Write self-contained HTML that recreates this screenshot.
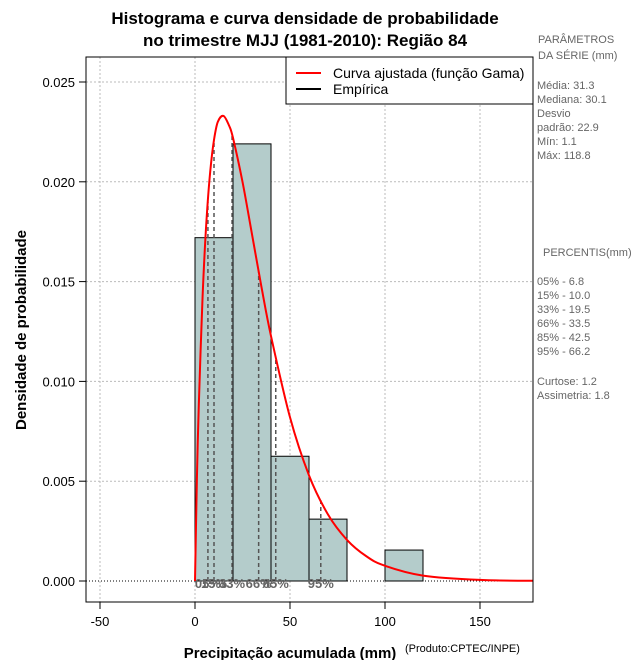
<!DOCTYPE html>
<html><head><meta charset="utf-8"><style>
body{margin:0;background:#fff;width:640px;height:660px;overflow:hidden}
svg text{font-family:"Liberation Sans",sans-serif}
</style></head><body>
<svg id="chart" width="640" height="660">
<defs><clipPath id="plotclip"><rect x="86" y="57" width="447" height="545"/></clipPath></defs>
<text x="305" y="24" text-anchor="middle" font-size="17" font-weight="bold">Histograma e curva densidade de probabilidade</text>
<text x="305" y="46" text-anchor="middle" font-size="17" font-weight="bold">no trimestre MJJ (1981-2010): Região 84</text>
<g id="grid"></g>
<g id="bars"></g>
<g id="pct"></g>
<path id="curve" fill="none" stroke="#f00" stroke-width="2" clip-path="url(#plotclip)"/>
<g id="axes"></g>
<rect x="86" y="57" width="447" height="545" fill="none" stroke="#000"/>
<g>
<rect x="286" y="57" width="247" height="47" fill="#fff" stroke="#000"/>
<line x1="296" y1="73" x2="321" y2="73" stroke="#f00" stroke-width="2"/>
<text x="333" y="78" font-size="14">Curva ajustada (função Gama)</text>
<line x1="296" y1="89" x2="321" y2="89" stroke="#000" stroke-width="2"/>
<text x="333" y="94" font-size="14">Empírica</text>
</g>
<text x="290" y="658" text-anchor="middle" font-size="15" font-weight="bold">Precipitação acumulada (mm)</text>
<text x="405" y="652" font-size="11">(Produto:CPTEC/INPE)</text>
<text transform="translate(26,330) rotate(-90)" text-anchor="middle" font-size="15" font-weight="bold">Densidade de probabilidade</text>
<g fill="#666" font-size="11">
<text x="538" y="43">PARÂMETROS</text><text x="538" y="59"> DA SÉRIE (mm)</text>
<text x="537" y="89">Média:  31.3</text><text x="537" y="103">Mediana:  30.1</text>
<text x="537" y="117">Desvio</text><text x="537" y="131">padrão:  22.9</text>
<text x="537" y="145">Mín:  1.1</text><text x="537" y="159">Máx:  118.8</text>
<text x="543" y="256">PERCENTIS(mm)</text>
<text x="537" y="285">05% -  6.8</text><text x="537" y="299">15% -  10.0</text>
<text x="537" y="313">33% -  19.5</text><text x="537" y="327">66% -  33.5</text>
<text x="537" y="341">85% -  42.5</text><text x="537" y="355">95% -  66.2</text>
<text x="537" y="385">Curtose:  1.2</text><text x="537" y="399">Assimetria:  1.8</text>
</g>
</svg>
<script>
const binStarts=[0,20,40,60,80,100];
const binDensity=[0.0172,0.0219,0.00625,0.0031,0,0.00155];
const binWidth=20;
const curveX=[0,1,2,4,6,8,10,12,15,18,20,25,30,35,40,50,60,70,80,90,100,120,150,180];
const curveY=[0,0.00512,0.00881,0.01427,0.0180,0.0205,0.0221,0.0230,0.0233,0.0228,0.0222,0.0200,0.01737,0.01472,0.01227,0.0082,0.00529,0.00333,0.00206,0.00125,0.00076,0.00027,0.000054,0.00001];
const pctLabels=["05%","15%","33%","66%","85%","95%"];
const pctValues=[6.8,10.0,19.5,33.5,42.5,66.2];
const xTicks=[-50,0,50,100,150];
const yTicks=[0,0.005,0.010,0.015,0.020,0.025];
const yTickLabels=["0.000","0.005","0.010","0.015","0.020","0.025"];
const NS="http://www.w3.org/2000/svg";
const X=v=>195+v*1.9, Y=v=>581-v*19960;
function mk(p,t,a){const e=document.createElementNS(NS,t);for(const k in a)e.setAttribute(k,a[k]);document.getElementById(p).appendChild(e);return e;}
function interp(x){for(let i=1;i<curveX.length;i++){if(x<=curveX[i]){const t=(x-curveX[i-1])/(curveX[i]-curveX[i-1]);return curveY[i-1]+t*(curveY[i]-curveY[i-1]);}}return 0;}
xTicks.forEach(v=>{const l=mk('grid','line',{x1:X(v),x2:X(v),y1:57,y2:602,stroke:'#bbb','stroke-dasharray':'2,2'});

const t=mk('axes','line',{x1:X(v),x2:X(v),y1:602,y2:609,stroke:'#000'});
const tx=mk('axes','text',{x:X(v),y:626,'text-anchor':'middle','font-size':13});tx.textContent=v;});
yTicks.forEach((v,i)=>{const l=mk('grid','line',{x1:86,x2:533,y1:Y(v),y2:Y(v),stroke:i==0?'#000':'#bbb','stroke-dasharray':i==0?'1,2':'2,2'});

const t=mk('axes','line',{x1:79,x2:86,y1:Y(v),y2:Y(v),stroke:'#000'});
const tx=mk('axes','text',{x:75,y:Y(v)+5,'text-anchor':'end','font-size':13});tx.textContent=yTickLabels[i];});
binStarts.forEach((b,i)=>{if(binDensity[i]<=0)return;const r=mk('bars','rect',{x:X(b),y:Y(binDensity[i]),width:X(b+binWidth)-X(b),height:Y(0)-Y(binDensity[i]),fill:'#b4cccb',stroke:'#000'});
});
pctValues.forEach((v,i)=>{const l=mk('pct','line',{x1:X(v),x2:X(v),y1:Y(0),y2:Y(interp(v)),stroke:'#555','stroke-width':1.5,'stroke-dasharray':'4,3'});

const t=mk('pct','text',{x:X(v),y:588,'text-anchor':'middle','font-size':13,'font-weight':'bold',fill:'#666'});t.textContent=pctLabels[i];
});
// Catmull-Rom smoothing through data points
const P=curveX.map((x,i)=>[X(x),Y(curveY[i])]);
let d='M'+P[0][0]+','+P[0][1];
for(let i=0;i<P.length-1;i++){const p0=P[Math.max(i-1,0)],p1=P[i],p2=P[i+1],p3=P[Math.min(i+2,P.length-1)];
const c1=[p1[0]+(p2[0]-p0[0])/6,p1[1]+(p2[1]-p0[1])/6],c2=[p2[0]-(p3[0]-p1[0])/6,p2[1]-(p3[1]-p1[1])/6];
d+='C'+c1[0].toFixed(1)+','+c1[1].toFixed(1)+' '+c2[0].toFixed(1)+','+c2[1].toFixed(1)+' '+p2[0].toFixed(1)+','+p2[1].toFixed(1);}
document.getElementById('curve').setAttribute('d',d);
</script>
</body></html>
